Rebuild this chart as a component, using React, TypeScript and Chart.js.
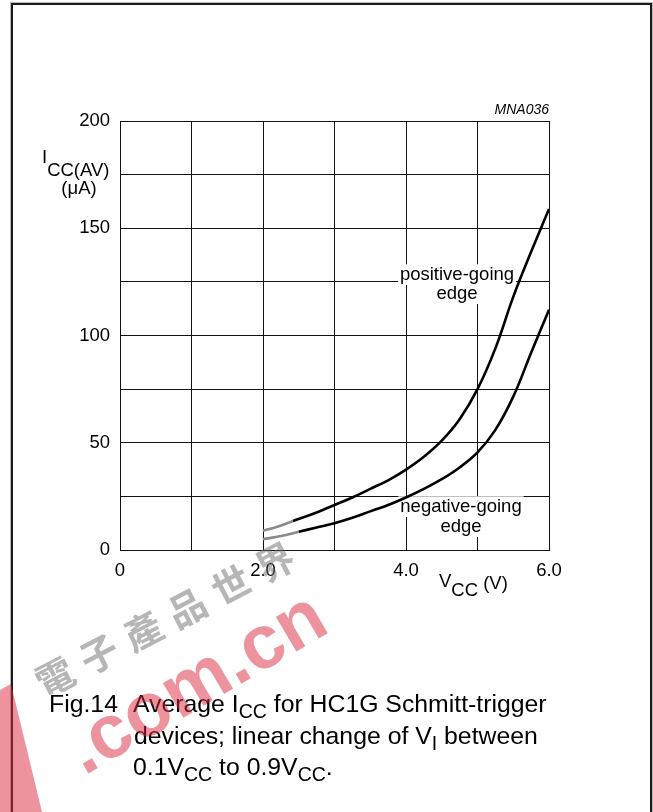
import React, { useEffect, useRef } from "react";
import { Chart, registerables } from "chart.js";

Chart.register(...registerables);

// ---- data ----
const posVcc = [2.0, 2.2, 2.42, 2.75, 3.0, 3.25, 3.5, 3.75, 4.0, 4.25, 4.5, 4.75, 5.0, 5.25, 5.5, 5.75, 6.0];
const posIcc = [9, 10.8, 13.5, 17.5, 21, 24.5, 28.5, 32.5, 37.5, 43.5, 51, 61, 75, 94, 118, 139, 159];
const negVcc = [2.0, 2.25, 2.5, 2.75, 3.0, 3.25, 3.5, 3.75, 4.0, 4.25, 4.5, 4.75, 5.0, 5.25, 5.5, 5.75, 6.0];
const negIcc = [5, 6.5, 8.5, 10.5, 12.5, 15, 18, 21, 24.5, 28.5, 33, 38.5, 45.5, 56, 71.5, 92, 112];
const posGrayUntil = 2.42;
const negGrayUntil = 2.5;

const xTickLabels: Record<number, string> = { 0: "0", 2: "2.0", 4: "4.0", 6: "6.0" };
const yTickLabels: Record<number, string> = { 0: "0", 50: "50", 100: "100", 150: "150", 200: "200" };
const xRange = [0, 6, 1];
const yRange = [0, 200, 25];

const FONT = '"Liberation Sans", Arial, Helvetica, sans-serif';

type Run = { t: string; size: number; dy?: number; italic?: boolean; bold?: boolean };

function drawRuns(ctx: CanvasRenderingContext2D, x: number, y: number, runs: Run[]) {
  let cx = x;
  for (const r of runs) {
    ctx.font = `${r.italic ? "italic " : ""}${r.bold ? "bold " : ""}${r.size}px ${FONT}`;
    ctx.fillText(r.t, cx, y + (r.dy || 0));
    cx += ctx.measureText(r.t).width;
  }
}

function labelBox(ctx: CanvasRenderingContext2D, lines: string[], cx: number, baselines: number[], size: number) {
  ctx.font = `${size}px ${FONT}`;
  ctx.fillStyle = "#fff";
  lines.forEach((l, i) => {
    const w = ctx.measureText(l).width;
    ctx.fillRect(cx - w / 2 - 2, baselines[i] - size * 0.85, w + 4, size * 1.12);
  });
  ctx.fillStyle = "#000";
  ctx.textAlign = "center";
  ctx.textBaseline = "alphabetic";
  lines.forEach((l, i) => ctx.fillText(l, cx, baselines[i]));
  ctx.textAlign = "left";
}

const decor = {
  id: "decor",
  beforeDraw(chart: any) {
    const ctx = chart.ctx as CanvasRenderingContext2D;
    ctx.save();
    ctx.fillStyle = "#fff";
    ctx.fillRect(0, 0, chart.width, chart.height);
    ctx.restore();
  },
  beforeDatasetsDraw(chart: any) {
    const ctx = chart.ctx as CanvasRenderingContext2D;
    ctx.save();
    labelBox(ctx, ["positive-going", "edge"], 457, [280, 299], 18.5);
    labelBox(ctx, ["negative-going", "edge"], 461, [512, 532], 18.5);
    ctx.restore();
  },
  afterDraw(chart: any) {
    const ctx = chart.ctx as CanvasRenderingContext2D;
    ctx.save();
    ctx.textBaseline = "alphabetic";
    ctx.textAlign = "left";
    ctx.fillStyle = "#000";

    // frame
    ctx.strokeStyle = "#bbb";
    ctx.lineWidth = 1;
    ctx.strokeRect(10.5, 2.5, 642, 840);
    ctx.strokeStyle = "#1a1a1a";
    ctx.lineWidth = 2;
    ctx.strokeRect(12, 4, 639, 840);

    // id
    ctx.textAlign = "right";
    ctx.font = `italic 14px ${FONT}`;
    ctx.fillText("MNA036", 549, 114);
    ctx.textAlign = "left";

    // y axis title
    drawRuns(ctx, 42, 163, [
      { t: "I", size: 18.5 },
      { t: "CC(AV)", size: 18.5, dy: 13 },
    ]);
    ctx.textAlign = "center";
    ctx.font = `18.5px ${FONT}`;
    ctx.fillText("(\u03bcA)", 79, 194);
    ctx.textAlign = "left";

    // x axis title
    drawRuns(ctx, 439, 587, [
      { t: "V", size: 18.5 },
      { t: "CC", size: 18.5, dy: 9 },
      { t: " (V)", size: 18.5, dy: 2 },
    ]);

    // caption
    const M = 24.8;
    const S = 19.5;
    ctx.font = `${M}px ${FONT}`;
    ctx.fillText("Fig.14", 49, 712);
    drawRuns(ctx, 133, 712, [
      { t: "Average I", size: M },
      { t: "CC", size: S, dy: 6 },
      { t: " for HC1G Schmitt-trigger", size: M },
    ]);
    drawRuns(ctx, 134, 744, [
      { t: "devices; linear change of V", size: M },
      { t: "I", size: S, dy: 6 },
      { t: " between", size: M },
    ]);
    drawRuns(ctx, 133, 775, [
      { t: "0.1V", size: M },
      { t: "CC", size: S, dy: 6 },
      { t: " to 0.9V", size: M },
      { t: "CC", size: S, dy: 6 },
      { t: ".", size: M },
    ]);

    // watermark (grey characters)
    ctx.fillStyle = "rgba(110,110,110,0.5)";
    ctx.textAlign = "center";
    ctx.textBaseline = "middle";
    ctx.font = `bold 38px "Noto Sans CJK TC", "Noto Sans CJK SC", sans-serif`;
    const chars = ["\u96fb", "\u5b50", "\u7522", "\u54c1", "\u4e16", "\u754c"];
    chars.forEach((ch, i) => {
      ctx.save();
      ctx.translate(55 + i * 44, 677 - i * 23);
      ctx.rotate(-0.48);
      ctx.fillText(ch, 0, 0);
      ctx.restore();
    });
    ctx.textAlign = "left";
    ctx.textBaseline = "alphabetic";

    // watermark (red)
    ctx.fillStyle = "rgba(220,40,60,0.5)";
    ctx.save();
    ctx.translate(84, 776);
    ctx.rotate(-0.53);
    ctx.font = `bold 76px ${FONT}`;
    ctx.fillText(".com.cn", 0, 0);
    ctx.restore();

    ctx.beginPath();
    ctx.moveTo(0, 690);
    ctx.lineTo(11, 684);
    ctx.lineTo(42, 812);
    ctx.lineTo(0, 812);
    ctx.closePath();
    ctx.fill();

    ctx.restore();
  },
};

export default function App() {
  const ref = useRef<HTMLCanvasElement>(null);

  useEffect(() => {
    if (!ref.current) return;
    const seg = (limit: number) => (c: any) => (c.p1.parsed.x <= limit + 1e-9 ? "#8a8a8a" : "#000");
    const tickFont = { family: FONT, size: 18.5 };
    const chart = new Chart(ref.current, {
      type: "line",
      data: {
        datasets: [
          {
            label: "positive-going edge",
            data: posVcc.map((x, i) => ({ x, y: posIcc[i] })),
            borderColor: "#000",
            borderWidth: 2.6,
            tension: 0.4,
            pointRadius: 0,
            fill: false,
            segment: { borderColor: seg(posGrayUntil) },
          } as any,
          {
            label: "negative-going edge",
            data: negVcc.map((x, i) => ({ x, y: negIcc[i] })),
            borderColor: "#000",
            borderWidth: 2.6,
            tension: 0.4,
            pointRadius: 0,
            fill: false,
            segment: { borderColor: seg(negGrayUntil) },
          } as any,
        ],
      },
      options: {
        responsive: false,
        animation: false,
        layout: { padding: { left: 60, top: 121, right: 104, bottom: 812 - 550 - 40 } },
        plugins: { legend: { display: false }, tooltip: { enabled: false } },
        scales: {
          x: {
            type: "linear",
            min: xRange[0],
            max: xRange[1],
            ticks: {
              stepSize: xRange[2],
              autoSkip: false,
              maxRotation: 0,
              padding: 10,
              color: "#000",
              font: tickFont,
              callback: (v: any) => xTickLabels[Number(v)] ?? "",
            },
            grid: { color: "#111", lineWidth: 1, drawTicks: false },
            border: { color: "#111", width: 1 },
            afterFit: (s: any) => {
              s.height = 40;
            },
          },
          y: {
            type: "linear",
            min: yRange[0],
            max: yRange[1],
            ticks: {
              stepSize: yRange[2],
              autoSkip: false,
              padding: 10,
              color: "#000",
              font: tickFont,
              callback: (v: any) => yTickLabels[Number(v)] ?? "",
            },
            grid: { color: "#111", lineWidth: 1, drawTicks: false },
            border: { color: "#111", width: 1 },
            afterFit: (s: any) => {
              s.width = 60;
            },
          },
        },
      },
      plugins: [decor],
    });
    return () => chart.destroy();
  }, []);

  return (
    <div style={{ position: "absolute", left: 0, top: 0, width: 653, height: 812 }}>
      <canvas ref={ref} width={653} height={812} style={{ display: "block" }} />
    </div>
  );
}
